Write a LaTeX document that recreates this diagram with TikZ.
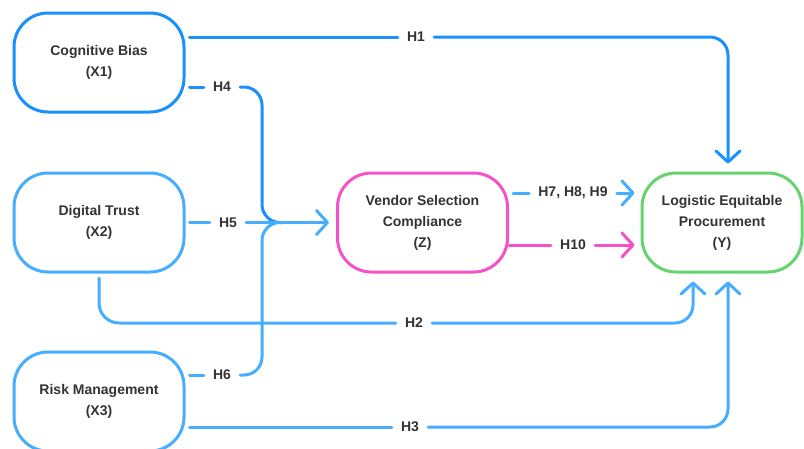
\documentclass[tikz,border=0pt]{standalone}
\usepackage{fontspec}
\setmainfont{Liberation Sans}
\usetikzlibrary{arrows.meta}

\definecolor{bluedark}{HTML}{1A90FF}
\definecolor{bluelight}{HTML}{47AEFF}
\definecolor{pinkz}{HTML}{F652C8}
\definecolor{greeny}{HTML}{66D36E}
\definecolor{textgray}{HTML}{333333}

\tikzset{
  var/.style={draw, line width=3pt, rounded corners=34pt, fill=white,
    minimum width=170pt, minimum height=99pt, align=center,
    font=\fontsize{14}{21}\selectfont\bfseries, text=textgray},
  hyp/.style={font=\fontsize{14}{16}\selectfont\bfseries, text=textgray,
    inner xsep=9pt, inner ysep=2pt},
  link/.style={line width=3pt, line cap=round, rounded corners=18pt},
  tip/.style={-{Straight Barb[length=11pt,width=24pt,line width=3pt,round]}}
}

\begin{document}
\begin{tikzpicture}[x=1pt,y=-1pt]
\useasboundingbox (0,0) rectangle (804,448);

% constructs
\node[var, draw=bluedark]  (x1) at (99,62.5)  {Cognitive Bias\\(X1)};
\node[var, draw=bluelight] (x2) at (99,222.5) {Digital Trust\\(X2)};
\node[var, draw=bluelight] (x3) at (99,401.5) {Risk Management\\(X3)};
\node[var, draw=pinkz]     (z)  at (422.5,222.5) {Vendor Selection\\Compliance\\(Z)};
\node[var, draw=greeny, minimum width=160pt] (y) at (722,222.5) {Logistic Equitable\\Procurement\\(Y)};

% hypothesis labels
\node[hyp] (h1) at (416,37)  {H1};
\node[hyp] (h4) at (222,87)  {H4};
\node[hyp] (h5) at (228,222.5) {H5};
\node[hyp] (h6) at (222,375) {H6};
\node[hyp] (h2) at (414,323) {H2};
\node[hyp] (h3) at (410,427) {H3};
\node[hyp] (h7) at (573,193) {H7, H8, H9};
\node[hyp] (h10) at (573,245) {H10};

\coordinate (j1) at (728,37);
\coordinate (j2) at (693,323);
\coordinate (j3) at (728,427);
\coordinate (m) at (262,222.5);
\coordinate (s2) at (99,278);

% H1: X1 -> Y (over the top)
\draw[link, bluedark] ([xshift=4pt]x1.east |- h1) -- (h1.west);
\draw[link, bluedark, tip, shorten >=8pt] (h1.east) -- (j1) -- (j1 |- y.north);

% H4, H5, H6: into Z
\draw[link, bluedark] ([xshift=4pt]x1.east |- h4) -- (h4.west);
\draw[link, bluedark] (h4.east) -- (m |- h4) -- (m) -- ([xshift=20pt]m);
\draw[link, bluelight] ([xshift=4pt]x3.east |- h6) -- (h6.west);
\draw[link, bluelight] (h6.east) -- (m |- h6) -- (m) -- ([xshift=20pt]m);
\draw[link, bluelight] ([xshift=4pt]x2.east |- h5) -- (h5.west);
\draw[link, bluelight, tip, shorten >=7pt] (h5.east) -- (z.west);

% H2: X2 -> Y (underneath)
\draw[link, bluelight, rounded corners=20pt] (s2) -- (s2 |- h2) -- (h2.west);
\draw[link, bluelight, tip, shorten >=8pt] (h2.east) -- (j2) -- (j2 |- y.south);

% H3: X3 -> Y (along the bottom)
\draw[link, bluelight] ([xshift=4pt]x3.east |- h3) -- (h3.west);
\draw[link, bluelight, tip, shorten >=8pt] (h3.east) -- (j3) -- (j3 |- y.south);

% H7-H9 and H10: Z -> Y
\draw[link, bluelight] ([xshift=4pt]z.east |- h7) -- (h7.west);
\draw[link, bluelight, tip, shorten >=6pt] (h7.east) -- (y.west |- h7);
\draw[link, pinkz] (z.east |- h10) -- (h10.west);
\draw[link, pinkz, tip, shorten >=6pt] (h10.east) -- (y.west |- h10);
\end{tikzpicture}
\end{document}
